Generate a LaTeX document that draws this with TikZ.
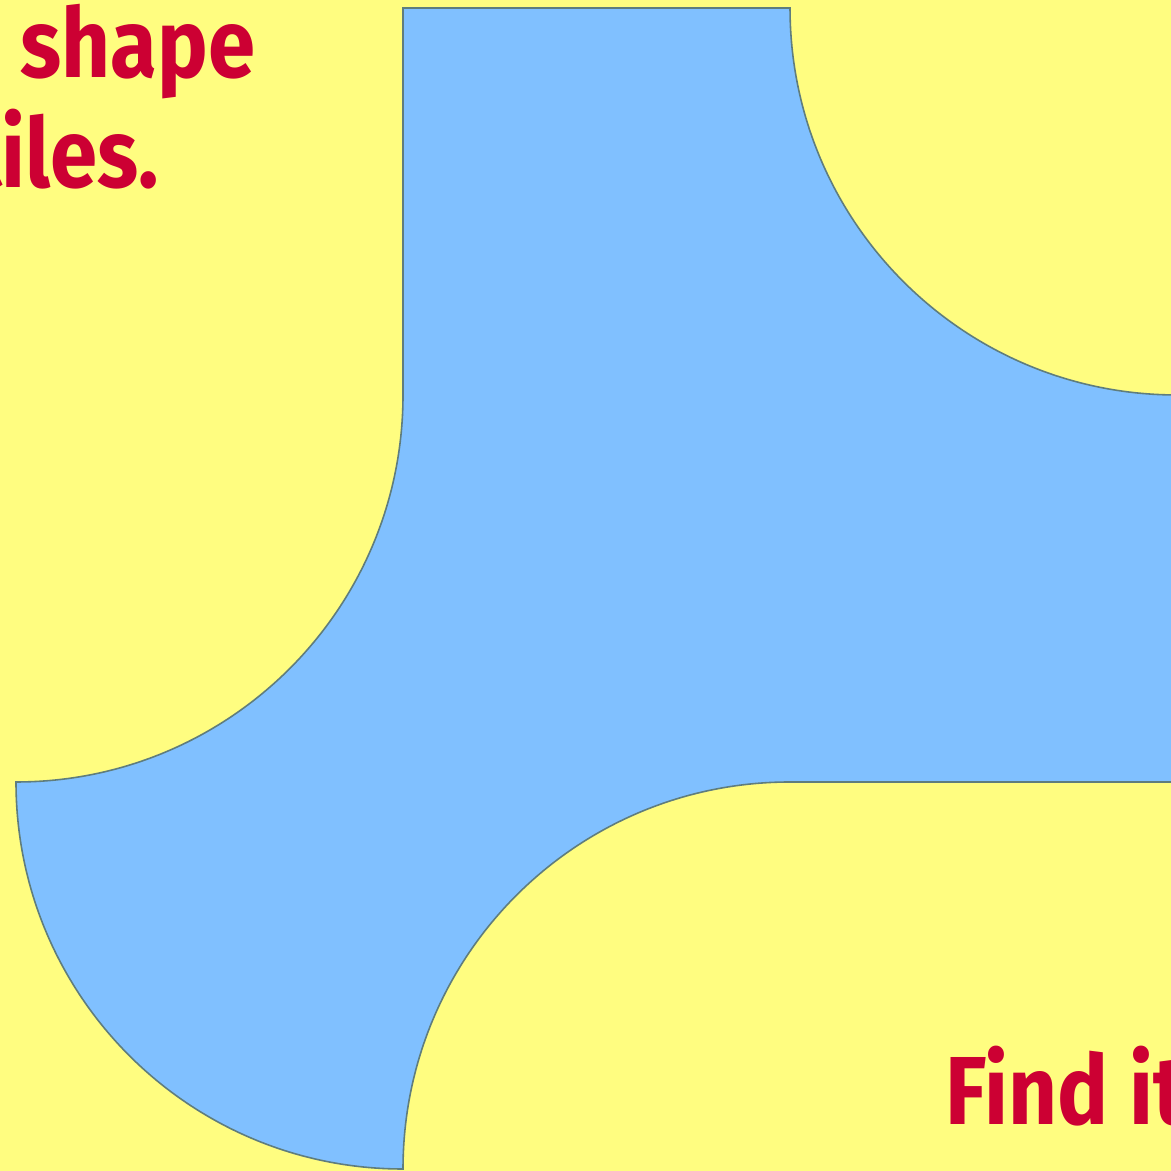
\documentclass[tikz,border=0pt]{standalone}
\usepackage{fontspec}
\setmainfont{Fira Sans}
\newfontfamily\capfont[FakeStretch=0.88]{Fira Sans}
\definecolor{paper}{RGB}{255,253,128}
\definecolor{tile}{RGB}{128,192,255}
\definecolor{rim}{RGB}{95,125,125}
\definecolor{ink}{RGB}{204,0,51}
\tikzset{
  caption/.style={text=ink, font=\capfont\fontsize{27.5}{33}\selectfont\bfseries, inner sep=0pt}
}
\begin{document}
\begin{tikzpicture}[x=0.01cm, y=0.01cm, line width=0.45pt]
  \useasboundingbox (0,0) rectangle (1171,1171);
  \clip (0,0) rectangle (1171,1171);
  \fill[paper] (0,0) rectangle (1171,1171);
  % the tile: squares of side 387
  \draw[fill=tile, draw=rim] (403,1163) -- (790,1163)
    arc[start angle=180, end angle=270, radius=387] -- (1177,389) -- (790,389)
    arc[start angle=90, end angle=180, radius=387]
    arc[start angle=270, end angle=180, radius=387]
    arc[start angle=270, end angle=360, radius=387] -- cycle;
  \node[caption, anchor=base east] (top) at (256,1093) {s shape};
  \node[caption, anchor=base east] (mid) at (160,983) {tiles.};
  \node[caption, anchor=base west] (low) at (945,46) {Find it};
\end{tikzpicture}
\end{document}
